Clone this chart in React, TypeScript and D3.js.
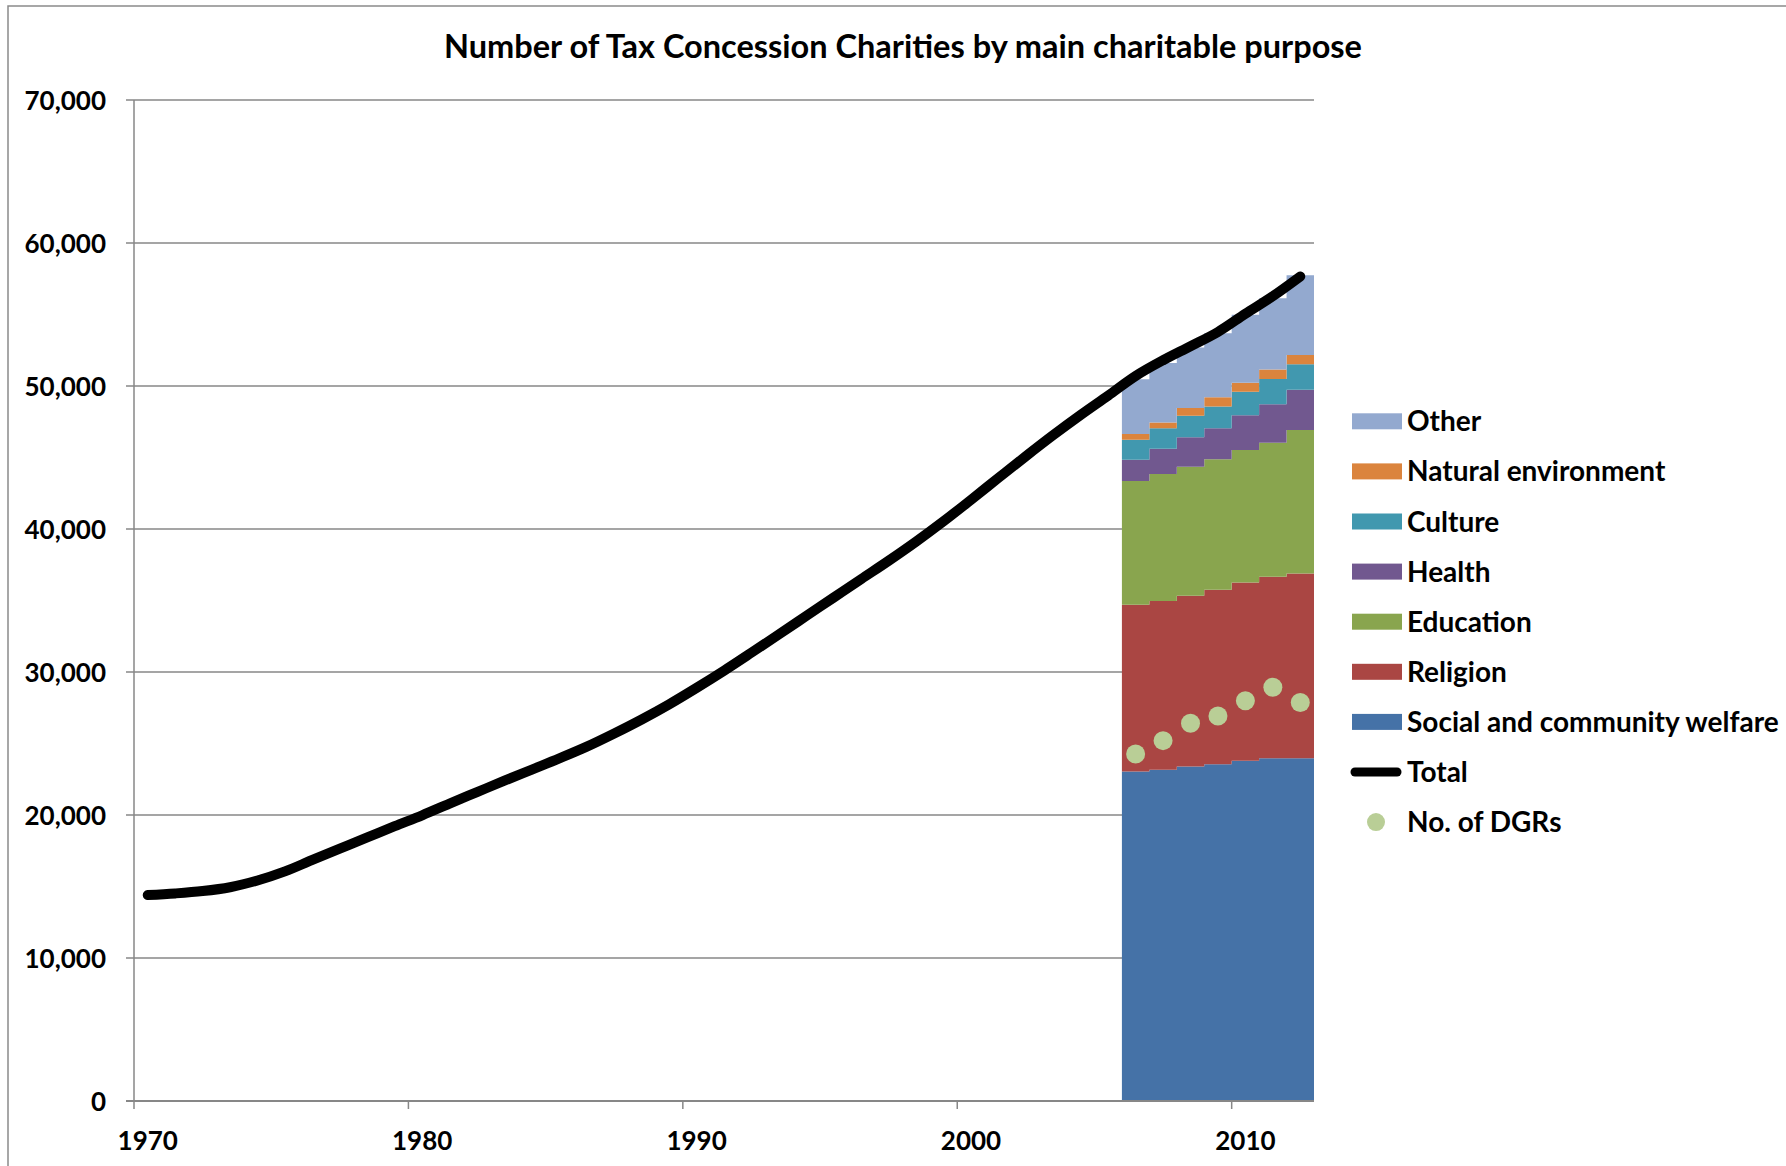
import React from 'react';
import * as d3 from 'd3';

// Total tax concession charities, one value per year (plotted mid-year)
const YEARS = [
  1970, 1971, 1972, 1973, 1974, 1975, 1976, 1977, 1978, 1979,
  1980, 1981, 1982, 1983, 1984, 1985, 1986, 1987, 1988, 1989,
  1990, 1991, 1992, 1993, 1994, 1995, 1996, 1997, 1998, 1999,
  2000, 2001, 2002, 2003, 2004, 2005, 2006, 2007, 2008, 2009,
  2010, 2011, 2012,
];
const TOTAL = [
  14400, 14515, 14680, 14950, 15420, 16055, 16860, 17645, 18430, 19220,
  19980, 20800, 21600, 22400, 23180, 23960, 24780, 25700, 26680, 27740,
  28890, 30090, 31350, 32630, 33920, 35210, 36500, 37780, 39120, 40540,
  42040, 43570, 45090, 46570, 47980, 49330, 50700, 51800, 52780, 53780,
  55050, 56280, 57660,
];

// Breakdown by main charitable purpose
const PURPOSE_YEARS = [2006, 2007, 2008, 2009, 2010, 2011, 2012];
const SOCIAL = [23050, 23170, 23400, 23550, 23800, 23970, 23970];
const RELIGION = [11660, 11790, 11940, 12210, 12460, 12690, 12910];
const EDUCATION = [8650, 8890, 9020, 9110, 9260, 9380, 10040];
const HEALTH = [1490, 1770, 2050, 2170, 2430, 2680, 2820];
const CULTURE = [1400, 1420, 1510, 1520, 1650, 1770, 1780];
const NATURAL = [400, 400, 540, 660, 630, 660, 650];
const OTHER = [3830, 4160, 4240, 4470, 4760, 4990, 5570];

// Deductible gift recipients
const DGRS = [24270, 25200, 26420, 26920, 27990, 28940, 27870];

const PURPOSES = [
  'Social and community welfare',
  'Religion',
  'Education',
  'Health',
  'Culture',
  'Natural environment',
  'Other',
];
const PURPOSE_VALUES = [SOCIAL, RELIGION, EDUCATION, HEALTH, CULTURE, NATURAL, OTHER];
const PURPOSE_COLORS = ['#4572A7', '#AA4643', '#89A54E', '#71588F', '#4198AF', '#DB843D', '#93A9CF'];

const TITLE = 'Number of Tax Concession Charities by main charitable purpose';
const TOTAL_LABEL = 'Total';
const DGR_LABEL = 'No. of DGRs';
const DGR_COLOR = '#B9CE96';

const W = 1786;
const H = 1166;
const FONT = 'Lato, "Open Sans", sans-serif';
const GRID = '#878787';

export default function App() {
  const x = d3.scaleLinear().domain([1970, 2013]).range([134, 1314]);
  const y = d3.scaleLinear().domain([0, 70000]).range([1101, 100]);

  const rows = PURPOSE_YEARS.map((year, i) => {
    const r: Record<string, number> = { year };
    PURPOSES.forEach((p, k) => (r[p] = PURPOSE_VALUES[k][i]));
    return r;
  });
  const stacked = d3.stack<Record<string, number>>().keys(PURPOSES)(rows);

  const area = d3
    .area<[number, number, number]>()
    .x((d) => x(d[0]))
    .y0((d) => y(d[1]))
    .y1((d) => y(d[2]))
    .curve(d3.curveStepAfter);

  // each year's stack spans the whole year on the date axis
  const bands = stacked.map((s) => {
    const pts: [number, number, number][] = s.map((d) => [d.data.year, d[0], d[1]]);
    const last = s[s.length - 1];
    pts.push([last.data.year + 1, last[0], last[1]]);
    return area(pts) as string;
  });

  const totalLine = d3
    .line<number>()
    .x((_, i) => x(YEARS[i] + 0.5))
    .y((d) => y(d))
    .curve(d3.curveCatmullRom)(TOTAL) as string;

  const yTicks = y.ticks(7);
  const xTicks = x.ticks(5);
  const fmt = d3.format(',');

  const legend = [
    ...PURPOSES.map((p, k) => ({ label: p, color: PURPOSE_COLORS[k], kind: 'box' })).reverse(),
    { label: TOTAL_LABEL, color: '#000', kind: 'line' },
    { label: DGR_LABEL, color: DGR_COLOR, kind: 'dot' },
  ];

  return (
    <svg
      width={W}
      height={H}
      style={{ position: 'absolute', left: 0, top: 0, background: '#fff' }}
      fontFamily={FONT}
      fontWeight="bold"
    >
      <path d={`M8,${H} V6 H${W}`} fill="none" stroke="#8a8a8a" strokeWidth={1.5} />

      <text x={903} y={58} textAnchor="middle" fontSize={32.5} fill="#000">
        {TITLE}
      </text>

      {/* horizontal gridlines with y labels */}
      {yTicks.map((t) => (
        <g key={t}>
          <line x1={126} x2={x(2013)} y1={y(t)} y2={y(t)} stroke={GRID} strokeWidth={1.5} />
          <text x={106} y={y(t) + 9.5} textAnchor="end" fontSize={26} fill="#000">
            {fmt(t)}
          </text>
        </g>
      ))}

      {/* stacked purposes */}
      {bands.map((d, k) => (
        <path key={PURPOSES[k]} d={d} fill={PURPOSE_COLORS[k]} />
      ))}

      {/* axes */}
      <line x1={x(1970)} x2={x(1970)} y1={y(70000)} y2={y(0)} stroke={GRID} strokeWidth={1.5} />
      <line x1={126} x2={x(2013)} y1={y(0)} y2={y(0)} stroke={GRID} strokeWidth={2} />
      {xTicks.map((t) => (
        <g key={t}>
          <line x1={x(t)} x2={x(t)} y1={y(0)} y2={y(0) + 8} stroke={GRID} strokeWidth={1.5} />
          <text x={x(t + 0.5)} y={1150} textAnchor="middle" fontSize={26} fill="#000">
            {t}
          </text>
        </g>
      ))}

      {/* total */}
      <path
        d={totalLine}
        fill="none"
        stroke="#000"
        strokeWidth={10}
        strokeLinecap="round"
        strokeLinejoin="round"
      />

      {/* DGR counts */}
      {DGRS.map((v, i) => (
        <circle key={PURPOSE_YEARS[i]} cx={x(PURPOSE_YEARS[i] + 0.5)} cy={y(v)} r={9.5} fill={DGR_COLOR} />
      ))}

      {/* legend */}
      {legend.map((item, i) => {
        const cy = 421.3 + i * 50.1;
        return (
          <g key={item.label}>
            {item.kind === 'box' && (
              <rect x={1352} y={cy - 8} width={50} height={16} fill={item.color} />
            )}
            {item.kind === 'line' && (
              <line
                x1={1355}
                x2={1397}
                y1={cy}
                y2={cy}
                stroke={item.color}
                strokeWidth={9}
                strokeLinecap="round"
              />
            )}
            {item.kind === 'dot' && <circle cx={1376} cy={cy} r={9} fill={item.color} />}
            <text x={1407} y={cy + 10} fontSize={28} fill="#000">
              {item.label}
            </text>
          </g>
        );
      })}
    </svg>
  );
}
